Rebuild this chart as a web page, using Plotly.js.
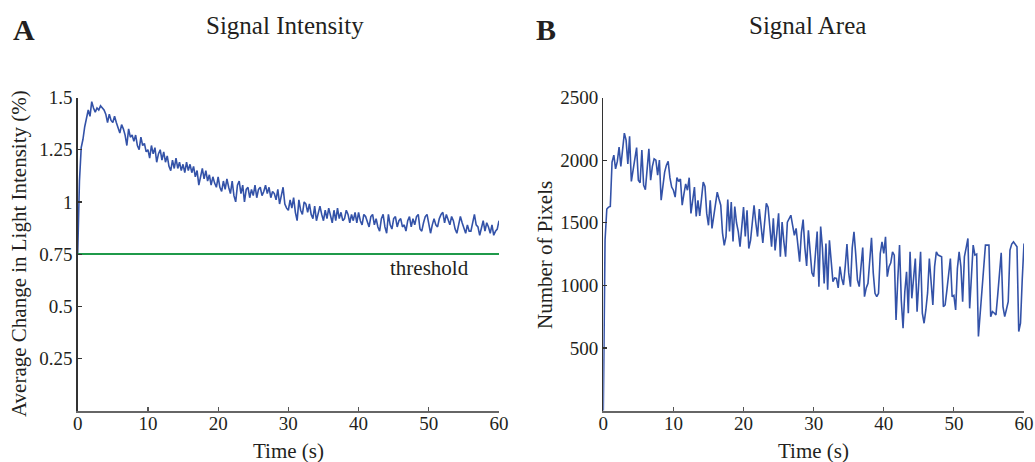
<!DOCTYPE html>
<html>
<head>
<meta charset="utf-8">
<script src="https://cdn.plot.ly/plotly-3.0.1.min.js"></script>
<style>
  html, body { margin: 0; padding: 0; background: #ffffff; }
  #chart { width: 1035px; height: 462px; }
</style>
</head>
<body>
<div id="chart"></div>
<script>
// ---------- data ----------
const timeStep = 0.25; // seconds between samples
const panelTitles = ["Signal Intensity", "Signal Area"];
const panelLetters = ["A", "B"];
const xTickVals = [0, 10, 20, 30, 40, 50, 60];
const intensityTickVals = [0.25, 0.5, 0.75, 1, 1.25, 1.5];
const intensityTickText = ["0.25", "0.5", "0.75", "1", "1.25", "1.5"];
const areaTickVals = [500, 1000, 1500, 2000, 2500];
const threshold = 0.75;

// Average change in light intensity (%), one value per 0.25 s, 0..60 s
const intensity = [
  0.75, 1.10, 1.26, 1.30,
  1.36, 1.40, 1.44, 1.41,
  1.48, 1.45, 1.43, 1.45,
  1.44, 1.46, 1.45, 1.44,
  1.42, 1.38, 1.42, 1.39,
  1.38, 1.41, 1.38, 1.35,
  1.33, 1.37, 1.35, 1.32,
  1.27, 1.35, 1.31, 1.32,
  1.29, 1.32, 1.27, 1.25,
  1.31, 1.27, 1.28, 1.24,
  1.25, 1.21, 1.27, 1.23,
  1.26, 1.19, 1.23, 1.25,
  1.20, 1.24, 1.19, 1.22,
  1.17, 1.15, 1.20, 1.16,
  1.21, 1.16, 1.19, 1.15,
  1.18, 1.14, 1.19, 1.15,
  1.18, 1.14, 1.17, 1.12,
  1.15, 1.08, 1.12, 1.16,
  1.11, 1.15, 1.10, 1.13,
  1.08, 1.12, 1.09, 1.07,
  1.12, 1.07, 1.05, 1.10,
  1.06, 1.11, 1.07, 1.04,
  1.10, 1.03, 1.00, 1.08,
  1.10, 1.04, 1.08, 1.00,
  1.06, 1.07, 1.02, 1.06,
  1.03, 1.08, 1.02, 1.06,
  1.07, 1.03, 1.05, 1.08,
  1.04, 1.07, 1.02, 1.05,
  1.04, 1.01, 1.06, 0.99,
  1.03, 1.07, 0.99, 0.97,
  0.96, 1.01, 0.97, 1.02,
  0.95, 0.91, 1.01, 0.96,
  0.94, 1.00, 0.99, 0.95,
  0.99, 0.94, 0.92, 0.98,
  0.91, 0.95, 0.98, 0.94,
  0.91, 0.96, 0.92, 0.97,
  0.94, 0.90, 0.96, 0.91,
  0.97, 0.92, 0.95, 0.91,
  0.92, 0.96, 0.94, 0.90,
  0.94, 0.91, 0.95, 0.90,
  0.95, 0.91, 0.89, 0.94,
  0.93, 0.90, 0.88, 0.93,
  0.94, 0.89, 0.92, 0.88,
  0.86, 0.92, 0.94, 0.88,
  0.85, 0.94, 0.89, 0.87,
  0.92, 0.93, 0.88, 0.91,
  0.92, 0.88, 0.89, 0.86,
  0.91, 0.93, 0.88, 0.92,
  0.89, 0.93, 0.94, 0.87,
  0.86, 0.90, 0.93, 0.94,
  0.89, 0.85, 0.89, 0.92,
  0.89, 0.88, 0.92, 0.94,
  0.95, 0.90, 0.94, 0.91,
  0.89, 0.93, 0.91, 0.87,
  0.85, 0.89, 0.93, 0.90,
  0.87, 0.85, 0.89, 0.86,
  0.86, 0.91, 0.94, 0.89,
  0.88, 0.84, 0.88, 0.91,
  0.86, 0.90, 0.88, 0.85,
  0.89, 0.84, 0.86, 0.87,
  0.91
];

// Number of pixels above threshold, one value per 0.25 s, 0..60 s
const area = [
  0, 1360, 1610, 1625,
  1630, 1985, 2040, 1930,
  1990, 2105, 1950, 2080,
  2215, 2160, 1970, 2190,
  1830, 1920, 2000, 2100,
  1840, 1820, 2080, 1800,
  1765, 1900, 2090, 1840,
  1950, 2010, 2000, 1880,
  2000, 1680, 1800, 1905,
  1960, 1990, 1860, 1785,
  1760, 1705, 1860, 1830,
  1850, 1640, 1730, 1810,
  1760, 1860, 1575, 1700,
  1785, 1550, 1680, 1555,
  1700, 1825, 1790, 1575,
  1480, 1680, 1455, 1550,
  1680, 1745, 1690, 1640,
  1420, 1320, 1390, 1685,
  1430, 1665, 1350, 1630,
  1500, 1430, 1310, 1450,
  1625, 1390, 1600, 1295,
  1360, 1500, 1640, 1500,
  1390, 1610, 1470, 1340,
  1500, 1655, 1625, 1450,
  1310, 1535, 1280, 1420,
  1575, 1230, 1505, 1350,
  1230, 1505, 1540, 1560,
  1480, 1400, 1455, 1300,
  1190, 1420, 1525, 1300,
  1155, 1440, 1250, 1100,
  1070, 1250, 1430, 990,
  1470, 1300, 1015, 1335,
  965, 1360, 1200, 1030,
  1060, 1056, 980, 1150,
  1056, 1003, 1150, 1330,
  1100, 990, 1300, 1428,
  1250, 1043, 990, 1150,
  1303, 910, 980, 1017,
  1200, 1380, 1100, 937,
  910, 937, 1255, 1348,
  1255, 1388, 1070, 1150,
  1180, 1268, 1242, 724,
  1050, 1322, 880, 658,
  950, 1109, 778, 1268,
  897, 1060, 1215, 791,
  1010, 1268, 778, 698,
  804, 940, 1215, 1020,
  844, 1150, 1268, 1242,
  1235, 1229, 830, 844,
  960, 1090, 1215, 910,
  920, 804, 1136, 1268,
  1150, 870, 1229, 1300,
  1375, 817, 1080, 1322,
  1242, 1250, 592, 780,
  910, 1110, 1322, 1322,
  1322, 751, 791, 780,
  764, 923, 1100, 1261,
  830, 751, 810, 870,
  1282, 1330, 1348, 1330,
  1308, 632, 698, 1050,
  1335
];

// ---------- chart ----------
const times = intensity.map((_, i) => i * timeStep);
const timesArea = area.map((_, i) => i * timeStep);

const W = 1035, H = 462;
const FONT = "Liberation Serif, Times New Roman, serif";
const TXT = "#231f20";
const BLUE = "#3352a8";
const GREEN = "#1f9a4a";

const plotTop = 97.5, plotBottom = 410.7;
const yDom = [1 - plotBottom / H, 1 - plotTop / H];

const traces = [
  { x: times, y: intensity, type: "scatter", mode: "lines",
    line: { color: BLUE, width: 1.6 }, xaxis: "x", yaxis: "y", hoverinfo: "skip" },
  { x: [xTickVals[0], xTickVals[xTickVals.length - 1]], y: [threshold, threshold],
    type: "scatter", mode: "lines", line: { color: GREEN, width: 2 },
    xaxis: "x", yaxis: "y", hoverinfo: "skip" },
  { x: timesArea, y: area, type: "scatter", mode: "lines",
    line: { color: BLUE, width: 1.6 }, xaxis: "x2", yaxis: "y2", hoverinfo: "skip" }
];

const xCommon = {
  range: [0, 60], tickvals: xTickVals, ticks: "inside", ticklen: 4, tickwidth: 1.2,
  tickcolor: "#555", showline: true, linecolor: "#666", linewidth: 2,
  showgrid: false, zeroline: false, tickfont: { family: FONT, size: 19, color: TXT },
  ticklabelstandoff: -6, fixedrange: true
};
const yCommon = {
  ticks: "inside", ticklen: 4, tickwidth: 1.2, tickcolor: "#333",
  showline: true, linecolor: "#333", linewidth: 1.3,
  showgrid: false, zeroline: false, tickfont: { family: FONT, size: 19, color: TXT },
  fixedrange: true
};

const layout = {
  width: W, height: H,
  margin: { l: 0, r: 0, t: 0, b: 0, pad: 0 },
  paper_bgcolor: "#ffffff", plot_bgcolor: "#ffffff",
  showlegend: false,
  xaxis: Object.assign({}, xCommon, { domain: [77.7 / W, 499 / W], anchor: "y" }),
  xaxis2: Object.assign({}, xCommon, { domain: [603.3 / W, 1024 / W], anchor: "y2" }),
  yaxis: Object.assign({}, yCommon, { domain: yDom, range: [0, 1.5], anchor: "x",
    tickvals: intensityTickVals, ticktext: intensityTickText }),
  yaxis2: Object.assign({}, yCommon, { domain: yDom, range: [0, 2500], anchor: "x2",
    tickvals: areaTickVals }),
  annotations: [
    { text: panelLetters[0], xref: "paper", yref: "paper", x: 24 / W, y: 1 - 29 / H,
      xanchor: "center", yanchor: "middle", showarrow: false,
      font: { family: FONT, size: 30, color: TXT, weight: "bold" } },
    { text: panelLetters[1], xref: "paper", yref: "paper", x: 546 / W, y: 1 - 29 / H,
      xanchor: "center", yanchor: "middle", showarrow: false,
      font: { family: FONT, size: 30, color: TXT, weight: "bold" } },
    { text: panelTitles[0], xref: "paper", yref: "paper", x: 285 / W, y: 1 - 25 / H,
      xanchor: "center", yanchor: "middle", showarrow: false,
      font: { family: FONT, size: 25, color: TXT } },
    { text: panelTitles[1], xref: "paper", yref: "paper", x: 807 / W, y: 1 - 25 / H,
      xanchor: "center", yanchor: "middle", showarrow: false,
      font: { family: FONT, size: 25, color: TXT } },
    { text: "Time (s)", xref: "paper", yref: "paper", x: 288 / W, y: 1 - 451 / H,
      xanchor: "center", yanchor: "middle", showarrow: false,
      font: { family: FONT, size: 21, color: TXT } },
    { text: "Time (s)", xref: "paper", yref: "paper", x: 813 / W, y: 1 - 451 / H,
      xanchor: "center", yanchor: "middle", showarrow: false,
      font: { family: FONT, size: 21, color: TXT } },
    { text: "Average Change in Light Intensity (%)", xref: "paper", yref: "paper",
      x: 19 / W, y: 1 - 254 / H, xanchor: "center", yanchor: "middle", textangle: -90,
      showarrow: false, font: { family: FONT, size: 21, color: TXT } },
    { text: "Number of Pixels", xref: "paper", yref: "paper",
      x: 545 / W, y: 1 - 255 / H, xanchor: "center", yanchor: "middle", textangle: -90,
      showarrow: false, font: { family: FONT, size: 21, color: TXT } },
    { text: "threshold", xref: "x", yref: "y", x: 44.2, y: 0.683,
      xanchor: "left", yanchor: "middle", showarrow: false,
      font: { family: FONT, size: 21, color: TXT } }
  ]
};

Plotly.newPlot("chart", traces, layout, { staticPlot: true, displayModeBar: false });
</script>
</body>
</html>
